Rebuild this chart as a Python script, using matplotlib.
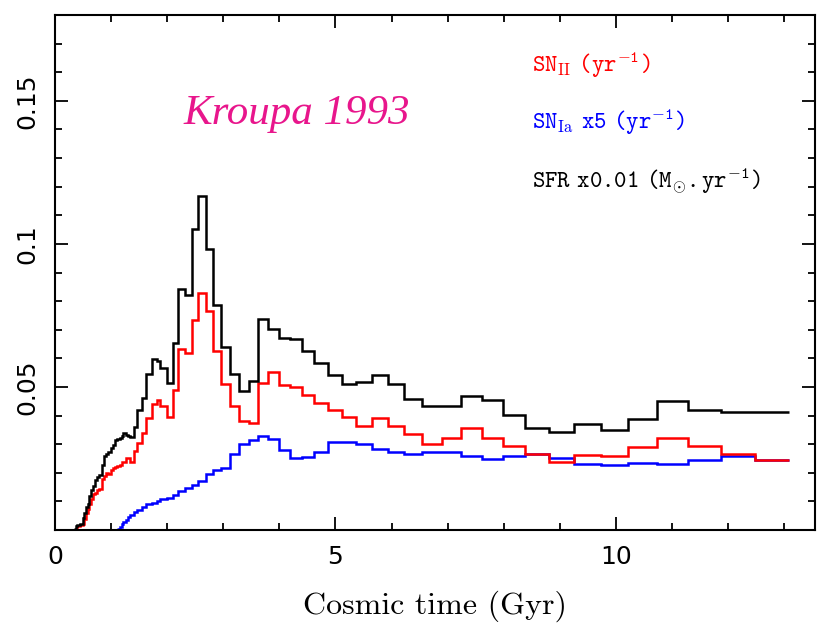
import matplotlib
matplotlib.use("Agg")
import matplotlib.pyplot as plt
from matplotlib.ticker import MultipleLocator
import numpy as np

# Typewriter face for the annotations, roman face for subscripts (via \mathsf)
plt.rcParams["mathtext.fontset"] = "custom"
plt.rcParams["mathtext.rm"] = "cmtt10"
plt.rcParams["mathtext.it"] = "cmtt10"
plt.rcParams["mathtext.tt"] = "cmtt10"
plt.rcParams["mathtext.sf"] = "cmr10"
plt.rcParams["mathtext.fallback"] = "cm"

# Time-bin edges (Gyr), shared by the three histories
edges = [0.33, 0.37, 0.40, 0.45, 0.49, 0.52, 0.55, 0.58, 0.61, 0.64,
         0.67, 0.71, 0.75, 0.79, 0.83, 0.87, 0.91, 0.95, 0.99, 1.03,
         1.07, 1.11, 1.15, 1.19, 1.22, 1.26, 1.30, 1.34, 1.41, 1.47,
         1.55, 1.63, 1.72, 1.81, 1.88, 1.99, 2.10, 2.20, 2.32, 2.44,
         2.55, 2.69, 2.82, 2.96, 3.12, 3.28, 3.45, 3.61, 3.80, 3.99,
         4.19, 4.40, 4.62, 4.86, 5.12, 5.37, 5.65, 5.93, 6.22, 6.54,
         6.89, 7.23, 7.61, 7.99, 8.38, 8.81, 9.26, 9.73, 10.22, 10.74,
         11.29, 11.87, 12.47, 13.09]

# Star formation rate x0.01 (Msun/yr)
sfr = [0.0005, 0.0013, 0.0018, 0.0022, 0.0042, 0.0059, 0.0080, 0.0092, 0.0120, 0.0141,
       0.0155, 0.0176, 0.0187, 0.0193, 0.0228, 0.0259, 0.0266, 0.0274, 0.0286, 0.0298,
       0.0313, 0.0318, 0.0321, 0.0329, 0.0338, 0.0333, 0.0327, 0.0324, 0.0359, 0.0420,
       0.0461, 0.0545, 0.0597, 0.0592, 0.0565, 0.0515, 0.0655, 0.0844, 0.0820, 0.1051,
       0.1168, 0.0982, 0.0786, 0.0638, 0.0546, 0.0486, 0.0522, 0.0737, 0.0701, 0.0672,
       0.0666, 0.0626, 0.0583, 0.0542, 0.0509, 0.0519, 0.0541, 0.0511, 0.0457, 0.0435,
       0.0435, 0.0470, 0.0456, 0.0401, 0.0358, 0.0342, 0.0369, 0.0350, 0.0387, 0.0452,
       0.0420, 0.0411, 0.0412]

# Type II supernova rate (1/yr)
sn2 = [0.0, 0.0005, 0.0013, 0.0018, 0.0022, 0.0040, 0.0059, 0.0075, 0.0092, 0.0110,
       0.0125, 0.0128, 0.0140, 0.0145, 0.0180, 0.0190, 0.0200, 0.0195, 0.0210, 0.0215,
       0.0220, 0.0222, 0.0226, 0.0236, 0.0239, 0.0252, 0.0250, 0.0239, 0.0275, 0.0305,
       0.0340, 0.0390, 0.0440, 0.0455, 0.0435, 0.0395, 0.0490, 0.0633, 0.0620, 0.0734,
       0.0829, 0.0767, 0.0626, 0.0510, 0.0434, 0.0382, 0.0373, 0.0514, 0.0551, 0.0508,
       0.0501, 0.0472, 0.0444, 0.0420, 0.0394, 0.0365, 0.0391, 0.0365, 0.0336, 0.0300,
       0.0322, 0.0356, 0.0320, 0.0292, 0.0266, 0.0237, 0.0263, 0.0257, 0.0291, 0.0322,
       0.0295, 0.0266, 0.0243]

# Type Ia supernova rate x5 (1/yr)
sn1a = [0.0, 0.0, 0.0, 0.0, 0.0, 0.0, 0.0, 0.0, 0.0, 0.0,
        0.0, 0.0, 0.0, 0.0, 0.0, 0.0, 0.0, 0.0, 0.0, 0.0,
        0.0, 0.0005, 0.0012, 0.0020, 0.0028, 0.0036, 0.0044, 0.0052, 0.0062, 0.0071,
        0.0080, 0.0090, 0.0096, 0.0102, 0.0107, 0.0113, 0.0124, 0.0135, 0.0147, 0.0158,
        0.0172, 0.0195, 0.0208, 0.0218, 0.0266, 0.0300, 0.0315, 0.0330, 0.0318, 0.0279,
        0.0253, 0.0254, 0.0273, 0.0307, 0.0308, 0.0299, 0.0284, 0.0271, 0.0266, 0.0272,
        0.0271, 0.0257, 0.0247, 0.0257, 0.0266, 0.0252, 0.0232, 0.0226, 0.0234, 0.0231,
        0.0243, 0.0259, 0.0243]

series = [
    (sn1a, "#0000ff"),
    (sn2, "#ff0000"),
    (sfr, "#000000"),
]

fig = plt.figure(figsize=(8.25, 6.27), dpi=100)
ax = fig.add_axes([0.0667, 0.1547, 0.9213, 0.8213])

edges_arr = np.asarray(edges)
for vals, col in series:
    v = np.asarray(vals)
    first = int(np.argmax(v > 0))
    ax.stairs(v[first:], edges_arr[first:], baseline=None, color=col, lw=1.8)

ax.set_xlim(0, 13.55)
ax.set_ylim(0, 0.18)

ax.xaxis.set_major_locator(MultipleLocator(5))
ax.xaxis.set_minor_locator(MultipleLocator(1))
ax.yaxis.set_major_locator(MultipleLocator(0.05))
ax.yaxis.set_minor_locator(MultipleLocator(0.01))
ax.set_xticks([0, 5, 10])
ax.set_xticklabels(["0", "5", "10"])
ax.set_yticks([0.05, 0.10, 0.15])
ax.set_yticklabels(["0.05", "0.1", "0.15"], rotation=90, va="center")

ax.tick_params(which="both", direction="in", top=True, right=True, width=1.3)
ax.tick_params(which="major", length=9.5, labelsize=18)
ax.tick_params(axis="x", which="major", pad=11)
ax.tick_params(axis="y", which="major", pad=11)
ax.tick_params(which="minor", length=5)
for s in ax.spines.values():
    s.set_linewidth(1.5)

ax.set_xlabel("Cosmic time (Gyr)", fontfamily="cmr10", fontsize=23, labelpad=15)

ax.text(2.29, 0.142, "Kroupa 1993", color="#e8168c", fontsize=31,
        fontfamily="Liberation Serif", fontstyle="italic", va="baseline")

sp = r"\ \;"
ax.text(8.5, 0.160, r"$\mathtt{SN}_{\mathsf{II}}" + sp + r"\mathtt{(yr}^{-1}\mathtt{)}$",
        color="#ff0000", fontsize=17, va="baseline")
ax.text(8.5, 0.1403, r"$\mathtt{SN}_{\mathsf{Ia}}" + sp + r"\mathtt{x5}" + sp
        + r"\mathtt{(yr}^{-1}\mathtt{)}$",
        color="#0000ff", fontsize=17, va="baseline")
ax.text(8.5, 0.1197, r"$\mathtt{SFR}" + sp + r"\mathtt{x0.01}" + sp
        + r"\mathtt{(M}_{\odot}\mathtt{.yr}^{-1}\mathtt{)}$",
        color="#000000", fontsize=17, va="baseline")

fig.savefig("out.png", dpi=100)
